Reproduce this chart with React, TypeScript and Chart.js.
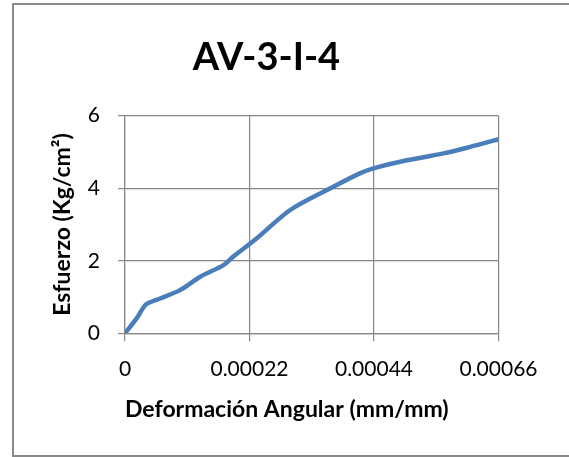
import React, { useEffect, useRef } from "react";
import { Chart, registerables } from "chart.js";

Chart.register(...registerables);

const chartTitle = "AV-3-I-4";
const xAxisTitle = "Deformación Angular (mm/mm)";
const yAxisTitle = "Esfuerzo (Kg/cm²)";

const xValues = [0, 0.0000206, 0.0000295, 0.0000383, 0.0000618, 0.0000972, 0.000133, 0.000174, 0.000191, 0.000233, 0.000292, 0.000362, 0.000415, 0.000442, 0.000492, 0.000563, 0.00061, 0.00066];
const yValues = [0, 0.41, 0.64, 0.81, 0.96, 1.19, 1.56, 1.88, 2.11, 2.62, 3.4, 3.99, 4.41, 4.56, 4.75, 4.96, 5.14, 5.35];

const xTicks = [0, 0.00022, 0.00044, 0.00066];
const xTickLabels = ["0", "0.00022", "0.00044", "0.00066"];
const yTicks = [0, 2, 4, 6];
const yTickLabels = ["0", "2", "4", "6"];

const FONT = "Lato, 'Open Sans', sans-serif";
const GRID = "#868686";

export default function App() {
  const ref = useRef<HTMLCanvasElement | null>(null);
  useEffect(() => {
    document.body.style.overflow = "hidden";
    const canvas = ref.current;
    if (!canvas) return;
    const chart = new Chart(canvas, {
      type: "line",
      data: {
        datasets: [
          {
            data: xValues.map((x, i) => ({ x, y: yValues[i] })),
            borderColor: "#4A7EBB",
            borderWidth: 4.5,
            pointRadius: 0,
            tension: 0.3,
            fill: false,
          },
        ],
      },
      options: {
        responsive: false,
        animation: false,
        layout: { padding: { left: 34.5, right: 70.5, top: 4, bottom: 0 } },
        plugins: {
          legend: { display: false },
          tooltip: { enabled: false },
          title: {
            display: true,
            text: chartTitle,
            color: "#000",
            font: { family: FONT, size: 38, weight: "bold", lineHeight: 1.2 },
            padding: { top: 30.5, bottom: 35.6 },
          },
        },
        scales: {
          x: {
            type: "linear",
            min: 0,
            max: 0.00066,
            afterBuildTicks: (s: any) => {
              s.ticks = xTicks.map((v) => ({ value: v }));
            },
            afterFit: (s: any) => {
              s.height = 457 - 333.3;
            },
            ticks: {
              color: "#000",
              padding: 15,
              maxRotation: 0,
              font: { family: FONT, size: 21 },
              callback: (_v: any, i: number) => xTickLabels[i],
            },
            grid: { color: GRID, lineWidth: 1.2, tickLength: 8 },
            border: { color: GRID, width: 1.2 },
            title: {
              display: true,
              text: xAxisTitle,
              align: "start",
              color: "#000",
              font: { family: FONT, size: 23, weight: "bold", lineHeight: 1.2 },
              padding: { top: 0, bottom: 33.2 },
            },
          },
          y: {
            type: "linear",
            min: 0,
            max: 6,
            afterBuildTicks: (s: any) => {
              s.ticks = yTicks.map((v) => ({ value: v }));
            },
            afterFit: (s: any) => {
              s.width = 125 - 34.5;
            },
            ticks: {
              color: "#000",
              padding: 18,
              font: { family: FONT, size: 21 },
              callback: (_v: any, i: number) => yTickLabels[i],
            },
            grid: { color: GRID, lineWidth: 1.2, tickLength: 7 },
            border: { color: GRID, width: 1.2 },
            title: {
              display: true,
              text: yAxisTitle,
              color: "#000",
              font: { family: FONT, size: 23, weight: "bold", lineHeight: 1.2 },
              padding: { top: 14.7, bottom: 0 },
            },
          },
        },
      },
    });
    return () => chart.destroy();
  }, []);

  return (
    <div style={{ position: "fixed", left: 0, top: 0, width: 569, height: 457, background: "#fff" }}>
      <div
        style={{
          position: "absolute",
          left: 12,
          top: 3,
          width: 557,
          height: 454,
          boxSizing: "border-box",
          borderTop: "2px solid #8a8a8a",
          borderLeft: "2px solid #8a8a8a",
          borderBottom: "2px solid #8a8a8a",
        }}
      />
      <canvas
        ref={ref}
        width={569}
        height={457}
        style={{ position: "absolute", left: 0, top: 0, width: 569, height: 457 }}
      />
    </div>
  );
}
